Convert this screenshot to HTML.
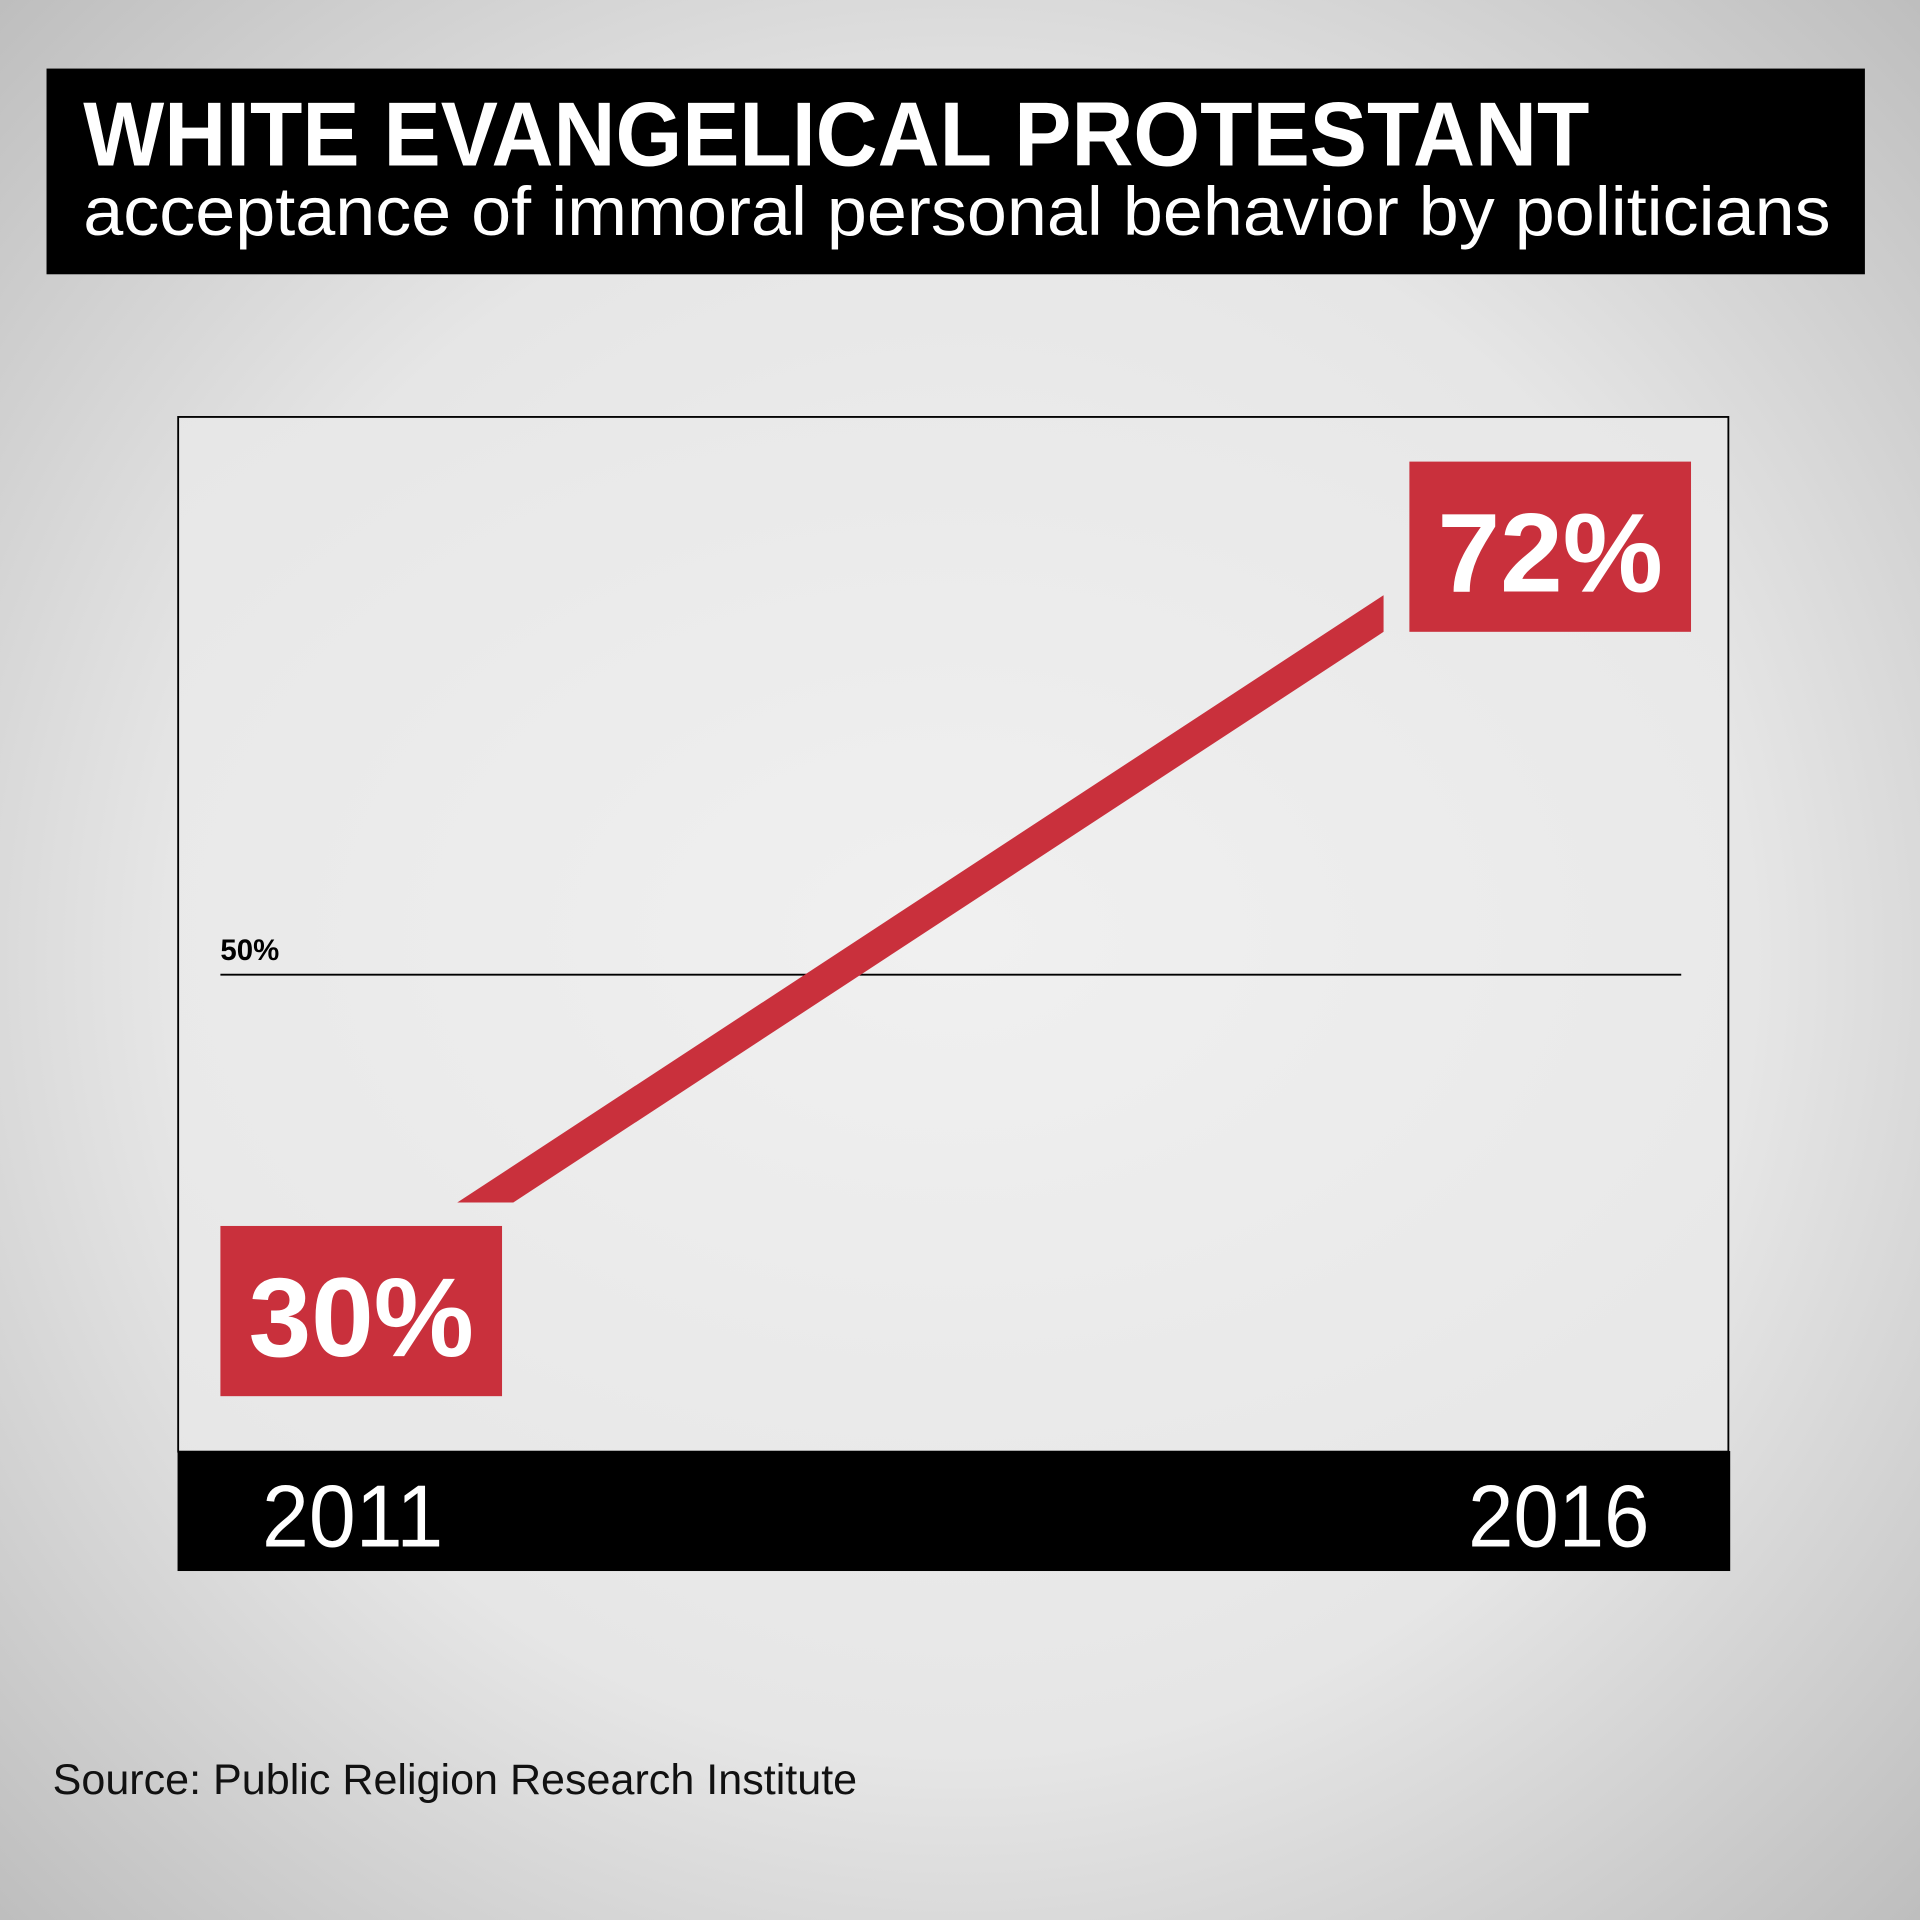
<!DOCTYPE html>
<html><head><meta charset="utf-8"><style>
html,body{margin:0;padding:0;width:1920px;height:1920px;overflow:hidden}
svg{display:block}
</style></head><body>
<svg id="chart" width="1920" height="1920" viewBox="0 0 1568 1568" xmlns="http://www.w3.org/2000/svg" font-family="'Liberation Sans', sans-serif">
<defs>
<radialGradient id="bg" cx="0.5" cy="0.5" r="0.75">
<stop offset="0" stop-color="#f2f2f2"/><stop offset="0.55" stop-color="#e6e6e6"/><stop offset="1" stop-color="#b8b8b8"/>
</radialGradient>
<radialGradient id="inner" cx="0.5" cy="0.5" r="0.75">
<stop offset="0" stop-color="#f0f0f0"/><stop offset="1" stop-color="#e6e6e6"/>
</radialGradient>
<clipPath id="lineClip"><rect x="150" y="486" width="980" height="496"/></clipPath>
</defs>
<rect width="1568" height="1568" fill="url(#bg)"/>
<g>
<rect x="38" y="56" width="1485" height="168" fill="#000"/>
<text x="68" y="135" font-size="74" font-weight="bold" fill="#fff" textLength="1230" lengthAdjust="spacingAndGlyphs">WHITE EVANGELICAL PROTESTANT</text>
<text x="68" y="192" font-size="56" fill="#fff" textLength="1427" lengthAdjust="spacingAndGlyphs">acceptance of immoral personal behavior by politicians</text>
</g>
<rect x="145.5" y="340.5" width="1266" height="845" fill="url(#inner)" stroke="#000" stroke-width="1.5"/>
<rect x="145" y="1185" width="1268" height="98" fill="#000"/>
<g id="marks"></g>
<text x="43" y="1465" font-size="35" fill="#111" textLength="657" lengthAdjust="spacingAndGlyphs">Source: Public Religion Research Institute</text>
</svg>
<script>
const years = ["2011", "2016"];
const values = [30, 72];
const labels = ["30%", "72%"];
const refValue = 50;
const refLabel = "50%";

const NS = "http://www.w3.org/2000/svg";
const svg = document.getElementById('marks');
function xScale(i){ return 271 + i * (1130 - 271); }
function yScale(v){ return 796 - (v - 50) * 13.41; }
function mk(tag, attrs){ const e=document.createElementNS(NS,tag); for(const k in attrs) e.setAttribute(k,attrs[k]); svg.appendChild(e); return e; }

// reference line
const ry = yScale(refValue);
const rl = mk('line',{x1:180,x2:1373,y1:ry,y2:ry,stroke:'#000','stroke-width':1.5});


const rt = mk('text',{x:180,y:ry-12,'font-size':24,'font-weight':'bold',fill:'#000'});
rt.textContent = refLabel;



// trend band
const x0=xScale(0), y0=yScale(values[0]), x1=xScale(1), y1=yScale(values[1]);
const h=15;
const band = mk('polygon',{points:`${x0},${y0-h} ${x1},${y1-h} ${x1},${y1+h} ${x0},${y0+h}`,fill:'#c9303c','clip-path':'url(#lineClip)'});



// value boxes
const boxPos = [{dx:-91,dy:-63},{dx:21,dy:-124}];
values.forEach((v,i)=>{
  const bx = xScale(i)+boxPos[i].dx, by = yScale(v)+boxPos[i].dy;
  const r = mk('rect',{x:bx,y:by,width:230,height:139,fill:'#c9303c'});
  
  
  const t = mk('text',{x:bx+115,y:by+106,'font-size':92,'font-weight':'bold',fill:'#fff','text-anchor':'middle',textLength:184,lengthAdjust:'spacingAndGlyphs'});
  t.textContent = labels[i];
  
  
});

// year labels
const yearX = [288, 1273];
years.forEach((yr,i)=>{
  const t = mk('text',{x:yearX[i],y:1263,'font-size':72,fill:'#fff','text-anchor':'middle',textLength:148,lengthAdjust:'spacingAndGlyphs'});
  t.textContent = yr;
  
  
});
</script>
</body></html>
